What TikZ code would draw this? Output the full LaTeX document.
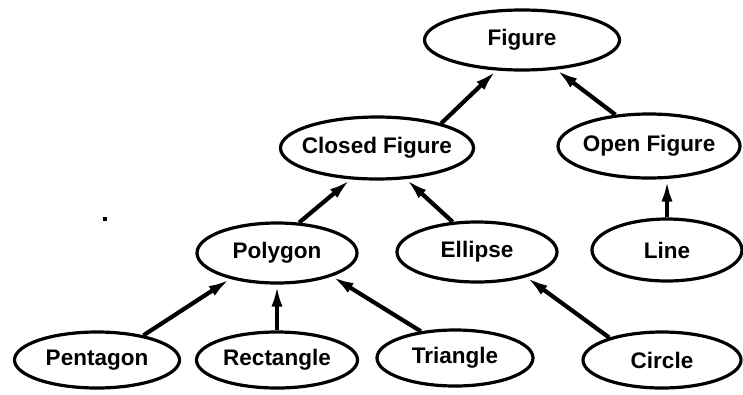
\documentclass[tikz,border=0pt]{standalone}
\usepackage{fontspec}
\setmainfont{Liberation Sans}
\usetikzlibrary{shapes.geometric,arrows.meta}
\tikzset{
  cls/.style={ellipse, draw=black, line width=3.2pt, inner xsep=-12pt, inner ysep=0pt,
    minimum width=#1, minimum height=60pt,
    font=\fontsize{22.5}{26}\selectfont\bfseries},
  cls/.default=160pt,
  inh/.style={line width=4.2pt, -{Latex[length=22pt,width=11pt]}}
}
\begin{document}
\begin{tikzpicture}[x=1pt,y=-1pt]
\useasboundingbox (0,0) rectangle (743,394);
\fill[white] (0,0) rectangle (743,394);
\node[cls=195pt] (fig) at (522,40) {Figure};
\node[cls=193pt, minimum height=62pt] (closed) at (377,148) {Closed Figure};
\node[cls=182pt, minimum height=64pt] (open) at (649,146) {Open Figure};
\node[cls=160pt] (poly) at (277,253) {Polygon};
\node[cls=160pt] (ell) at (477,252) {Ellipse};
\node[cls=150pt, minimum height=62pt] (line) at (667,250) {Line};
\node[cls=165pt, minimum height=56pt] (pent) at (97,360) {Pentagon};
\node[cls=161pt, minimum height=56pt] (rect) at (277,360) {Rectangle};
\node[cls=156pt, minimum height=56pt] (tri) at (455,358) {Triangle};
\node[cls=158pt, minimum height=56pt] (circ) at (662,360) {Circle};
\fill[black] (103,217) rectangle (107,221);
\draw[inh] (closed.21) -- (fig.230);
\draw[inh] (open.137) -- (fig.319);
\draw[inh] (poly.54) -- (closed.230);
\draw[inh] (ell.129) -- (closed.313);
\draw[inh] (line.north) -- (line.north |- open.south);
\draw[inh] (pent.28) -- (poly.209);
\draw[inh] (rect.north) -- (poly.south);
\draw[inh] (tri.142) -- (poly.337);
\draw[inh] (circ.157) -- (ell.333);
\end{tikzpicture}
\end{document}
